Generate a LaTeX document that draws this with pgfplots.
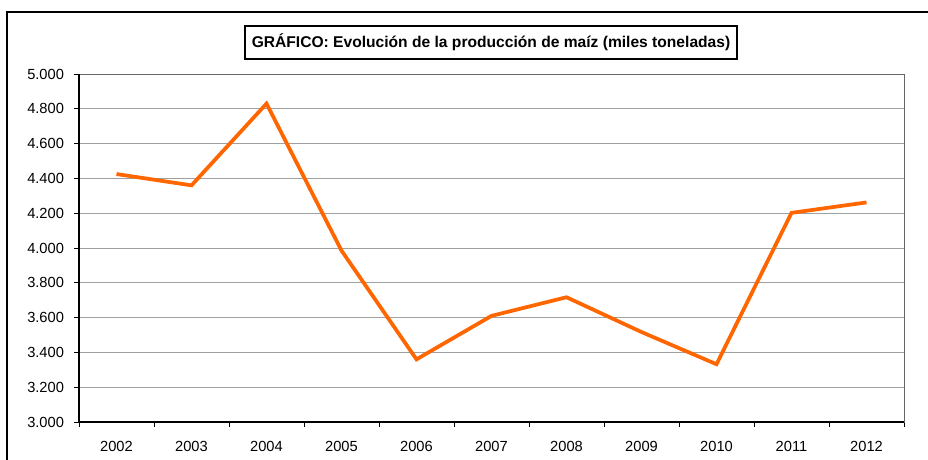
\documentclass[border=0pt]{standalone}
\usepackage{pgfplots}
\pgfplotsset{compat=1.18}
\usepackage{fontspec}
\setmainfont{Liberation Sans}
\definecolor{lineorange}{RGB}{255,102,0}
\definecolor{gridgray}{RGB}{160,160,160}
\begin{document}
\begin{tikzpicture}[x=0.75pt,y=0.75pt]
\useasboundingbox (0,0) rectangle (928,460);
\draw[line width=1.3pt] (7,-30) rectangle (960,448);
\node[draw, line width=1.4pt, inner sep=0pt, minimum width=369pt, minimum height=24.5pt,
      font=\bfseries\fontsize{11.7}{13}\selectfont] at (491,417.5)
  {GRÁFICO: Evolución de la producción de maíz (miles toneladas)};
\begin{axis}[
  at={(59.25pt,28.5pt)}, anchor=south west,
  scale only axis, width=618.75pt, height=261pt,
  xmin=-0.5, xmax=10.5, ymin=3000, ymax=5000,
  xtick={-0.5,0.5,...,10.5},
  x tick label as interval,
  xticklabels={2002,2003,2004,2005,2006,2007,2008,2009,2010,2011,2012},
  ytick={3000,3200,...,5000},
  tick align=outside, xtick pos=left, ytick pos=left,
  major tick length=3.75pt,
  tick style={black, line width=0.7pt},
  ymajorgrids, grid style={gridgray, line width=0.7pt},
  axis line style={draw=gray!80!black, line width=0.7pt},
  /pgf/number format/.cd, 1000 sep={.}, fixed, precision=0, assume math mode=true,
  /pgfplots/.cd,
  ticklabel style={font=\fontsize{11}{13}\selectfont},
  yticklabel style={xshift=-4pt},
  xticklabel style={yshift=-7pt},
  clip=false,
]
\addplot[lineorange, line width=2.8pt] coordinates {
  (0,4425) (1,4360) (2,4830) (3,3985) (4,3360) (5,3610)
  (6,3717) (7,3517) (8,3332) (9,4202) (10,4262)
};
\draw[black, line width=0.9pt] (rel axis cs:0,1) -- (rel axis cs:0,0) -- (rel axis cs:1,0);
\end{axis}
\end{tikzpicture}
\end{document}
